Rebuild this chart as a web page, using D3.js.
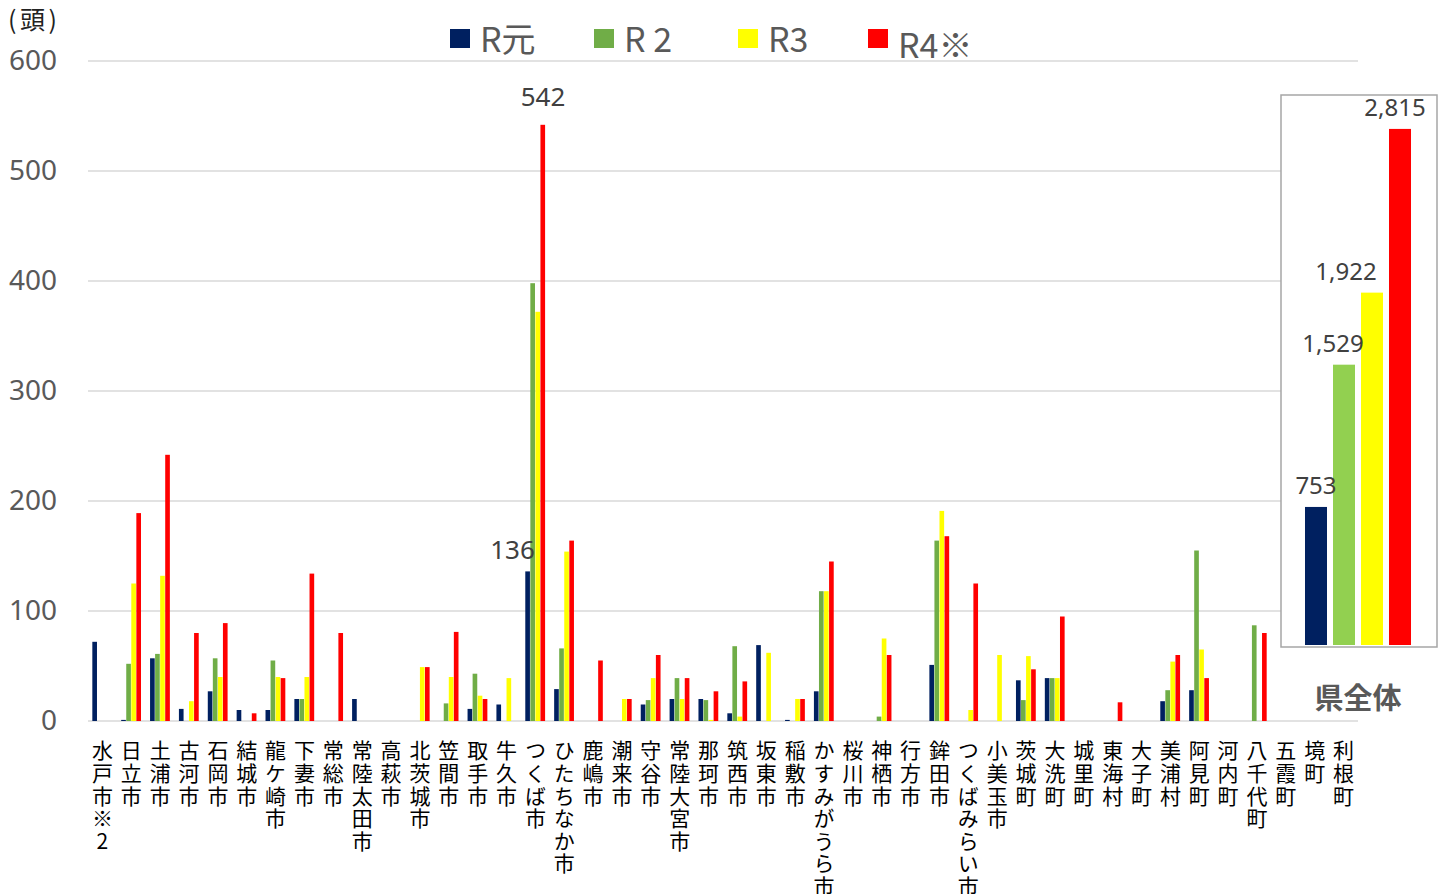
<!DOCTYPE html>
<html><head><meta charset="utf-8">
<script src="https://cdn.jsdelivr.net/npm/d3@7"></script>
<style>
body{margin:0;background:#fff;}
svg text{font-family:"Noto Sans CJK JP","Noto Sans",sans-serif;}
</style></head>
<body>
<svg id="chart" width="1446" height="894"></svg>
<script>
const categories = ["水戸市※2","日立市","土浦市","古河市","石岡市","結城市","龍ケ崎市","下妻市","常総市","常陸太田市","高萩市","北茨城市","笠間市","取手市","牛久市","つくば市","ひたちなか市","鹿嶋市","潮来市","守谷市","常陸大宮市","那珂市","筑西市","坂東市","稲敷市","かすみがうら市","桜川市","神栖市","行方市","鉾田市","つくばみらい市","小美玉市","茨城町","大洗町","城里町","東海村","大子町","美浦村","阿見町","河内町","八千代町","五霞町","境町","利根町"];
const seriesNames = ["R元","R２","R3","R4※"];
const legendLabels = ["R元","R 2","R3","R4※"];
const valuesR1 = [72,1,57,11,27,10,10,20,0,20,0,0,0,11,15,136,29,0,0,15,20,20,7,69,1,27,0,0,0,51,0,0,37,39,0,0,0,18,28,0,0,0,0,0];
const valuesR2 = [0,52,61,0,57,0,55,20,0,0,0,0,16,43,0,398,66,0,0,19,39,19,68,0,0,118,0,4,0,164,0,0,19,39,0,0,0,28,155,0,87,0,0,0];
const valuesR3 = [0,125,132,18,40,0,40,40,0,0,0,49,40,23,39,372,154,0,20,39,20,1,4,62,20,118,0,75,0,191,10,60,59,39,0,0,0,54,65,0,0,0,0,0];
const valuesR4 = [0,189,242,80,89,7,39,134,80,0,0,49,81,20,0,542,164,55,20,60,39,27,36,0,20,145,0,60,0,168,125,0,47,95,0,17,0,60,39,0,80,0,0,0];
const yTicks = [0,100,200,300,400,500,600];
const totals = [753,1529,1922,2815];
const totalLabels = ["753","1,529","1,922","2,815"];
const pointLabels = [{cat:"つくば市", series:0, text:"136"},{cat:"つくば市", series:3, text:"542"}];

const colors = ["#002060","#70AD47","#FFFF00","#FF0000"];
const totalColors = ["#002060","#92D050","#FFFF00","#FF0000"];
const seriesVals = [valuesR1,valuesR2,valuesR3,valuesR4];

const svg = d3.select("#chart");
const x0 = d3.scaleBand().domain(categories).range([88,1358]).paddingInner(0.3).paddingOuter(0.15);
const x1 = d3.scaleBand().domain(d3.range(4)).range([0,x0.bandwidth()]);
const y = d3.scaleLinear().domain([0,600]).range([721,61]);

// gridlines
svg.append("g").selectAll("line").data(yTicks).join("line")
  .attr("x1",88).attr("x2",1358).attr("y1",d=>y(d)).attr("y2",d=>y(d))
  .attr("stroke","#d9d9d9").attr("stroke-width",1.5);

// y axis labels
const yAxis = d3.axisLeft(y).tickValues(yTicks).tickSize(0).tickPadding(0).tickFormat(d3.format("d"));
const ya = svg.append("g").attr("transform","translate(57,0)").call(yAxis);
ya.select(".domain").remove();
ya.selectAll("text").attr("font-size",28).attr("fill","#595959").style("font-family","'Noto Sans','Open Sans',sans-serif");

svg.append("text").attr("x",8).attr("y",29).attr("font-size",25).attr("fill","#222").text("(頭)").attr("textLength",49).attr("lengthAdjust","spacing");

// bars
const groups = svg.append("g").selectAll("g").data(categories).join("g")
  .attr("transform",d=>`translate(${x0(d)},0)`);
groups.selectAll("rect").data((c,i)=>seriesVals.map((s,k)=>({k,v:s[i]}))).join("rect")
  .attr("x",d=>x1(d.k)).attr("width",x1.bandwidth()-0.4)
  .attr("y",d=>y(d.v)).attr("height",d=>y(0)-y(d.v))
  .attr("fill",d=>colors[d.k]);

// point labels
pointLabels.forEach(p=>{
  const i = categories.indexOf(p.cat);
  const v = seriesVals[p.series][i];
  const cx = x0(p.cat)+x1(p.series)+x1.bandwidth()/2;
  const t = svg.append("text").attr("font-size",26).attr("fill","#404040")
    .style("font-family","'Noto Sans',sans-serif").text(p.text);
  if(p.series===0){ t.attr("x",cx+7).attr("y",y(v)-12).attr("text-anchor","end"); }
  else { t.attr("x",cx).attr("y",y(v)-19).attr("text-anchor","middle"); }
});

// x labels vertical
svg.append("g").selectAll("text").data(categories).join("text")
  .attr("x",d=>x0(d)+x0.bandwidth()/2).attr("y",740)
  .attr("font-size",21).attr("fill","#000")
  .style("writing-mode","vertical-rl").style("text-orientation","upright")
  .style("letter-spacing","1.6px")
  .text(d=>d);

// legend
const legX = [450,594,738,868];
const lg = svg.append("g");
seriesNames.forEach((n,k)=>{
  lg.append("rect").attr("x",legX[k]).attr("y",29).attr("width",20).attr("height",19).attr("fill",colors[k]);
  lg.append("text").attr("x",legX[k]+30).attr("y",k===3?58:52).attr("font-size",34).attr("fill","#595959")
    .style("font-family","'Noto Sans CJK JP',sans-serif").text(legendLabels[k]);
});

// inset
svg.append("rect").attr("x",1281).attr("y",95).attr("width",156).attr("height",552)
  .attr("fill","#fff").attr("stroke","#a6a6a6").attr("stroke-width",1.5);
const xi = d3.scaleBand().domain(d3.range(4)).range([1302,1414]).paddingInner(0.2143).paddingOuter(0.107);
const yi = d3.scaleLinear().domain([0,3000]).range([645,95]);
svg.append("g").selectAll("rect").data(totals).join("rect")
  .attr("x",(d,i)=>xi(i)).attr("width",xi.bandwidth())
  .attr("y",d=>yi(d)).attr("height",d=>yi(0)-yi(d)).attr("fill",(d,i)=>totalColors[i]);
const labelDx = [0,-11,-26,-5];
svg.append("g").selectAll("text").data(totals).join("text")
  .attr("x",(d,i)=>xi(i)+xi.bandwidth()/2+labelDx[i]).attr("y",d=>yi(d)-13)
  .attr("text-anchor","middle").attr("font-size",24).attr("fill","#404040")
  .style("font-family","'Noto Sans',sans-serif").text((d,i)=>totalLabels[i]);
svg.append("text").attr("x",1358).attr("y",709).attr("text-anchor","middle")
  .attr("font-size",29).attr("font-weight","bold").attr("fill","#595959").text("県全体");
</script>
</body></html>
